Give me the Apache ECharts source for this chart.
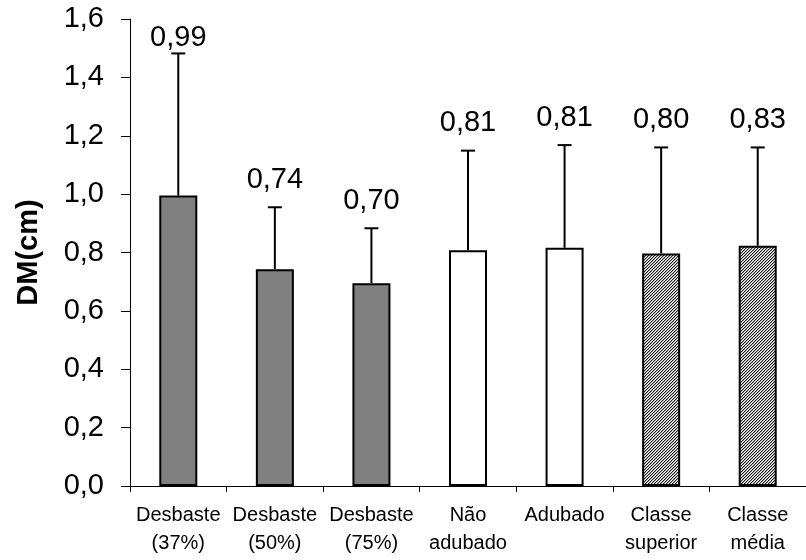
<!DOCTYPE html>
<html>
<head>
<meta charset="utf-8">
<script src="https://cdn.jsdelivr.net/npm/echarts@6/dist/echarts.min.js"></script>
<style>
html,body{margin:0;padding:0;background:#fff;}
#chart{width:806px;height:560px;}
</style>
</head>
<body>
<div id="chart"></div>
<script>
var categories = ['Desbaste\n(37%)', 'Desbaste\n(50%)', 'Desbaste\n(75%)', 'Não\nadubado', 'Adubado', 'Classe\nsuperior', 'Classe\nmédia'];
var means = [0.995, 0.743, 0.695, 0.808, 0.816, 0.797, 0.823];
var errorTops = [1.482, 0.955, 0.883, 1.149, 1.168, 1.160, 1.160];
var valueLabels = ['0,99', '0,74', '0,70', '0,81', '0,81', '0,80', '0,83'];
var fillTypes = ['gray', 'gray', 'gray', 'white', 'white', 'hatch', 'hatch'];
var yTicks = [0, 0.2, 0.4, 0.6, 0.8, 1.0, 1.2, 1.4, 1.6];

// hatch pattern (fine diagonal)
var pc = document.createElement('canvas');
pc.width = 3; pc.height = 3;
var pctx = pc.getContext('2d');
var img = pctx.createImageData(3, 3);
for (var y = 0; y < 3; y++) {
  for (var x = 0; x < 3; x++) {
    var i = (y * 3 + x) * 4;
    var r = (x + y) % 3;
    var v = r === 0 ? 25 : (r === 1 ? 165 : 255);
    img.data[i] = v; img.data[i+1] = v; img.data[i+2] = v; img.data[i+3] = 255;
  }
}
pctx.putImageData(img, 0, 0);
var hatch = { image: pc, repeat: 'repeat' };

function fillFor(t) {
  if (t === 'gray') return '#808080';
  if (t === 'white') return '#ffffff';
  return hatch;
}

var font = '"Liberation Sans", Arial, sans-serif';
var chart = echarts.init(document.getElementById('chart'), null, {renderer: 'canvas'});

chart.setOption({
  animation: false,
  backgroundColor: '#ffffff',
  grid: { left: 130, top: 19, width: 684, height: 467, containLabel: false },
  xAxis: {
    type: 'category',
    data: categories,
    boundaryGap: true,
    axisLine: { lineStyle: { color: '#000', width: 1 } },
    axisTick: { show: true, length: 6, alignWithLabel: false, lineStyle: { color: '#000' } },
    axisLabel: { color: '#000', fontSize: 20, fontFamily: font, lineHeight: 28, margin: 15, interval: 0 }
  },
  yAxis: {
    type: 'value',
    min: 0, max: 1.6, interval: 0.2,
    name: 'DM(cm)',
    nameLocation: 'middle',
    nameGap: 87,
    nameTextStyle: { color: '#000', fontSize: 29, fontWeight: 'bold', fontFamily: font },
    axisLine: { show: true, lineStyle: { color: '#000', width: 1 } },
    axisTick: { show: true, length: 9, lineStyle: { color: '#000' } },
    splitLine: { show: false },
    axisLabel: {
      color: '#000', fontSize: 29, fontFamily: font, margin: 26,
      formatter: function (v) { return v.toFixed(1).replace('.', ','); }
    }
  },
  series: [
    {
      type: 'bar',
      barWidth: 38,
      data: means.map(function (m, i) {
        return { value: m, itemStyle: { color: fillFor(fillTypes[i]), borderColor: '#000', borderWidth: 2 } };
      }),
      z: 2
    },
    {
      type: 'custom',
      z: 3,
      data: means.map(function (m, i) { return [i, m, errorTops[i]]; }),
      renderItem: function (params, api) {
        var idx = api.value(0);
        var p0 = api.coord([idx, api.value(1)]);
        var p1 = api.coord([idx, api.value(2)]);
        var cap = 7;
        var ly = Math.max(p1[1] - 13, 52);
        return {
          type: 'group',
          children: [
            { type: 'line', shape: { x1: p0[0], y1: p0[1], x2: p1[0], y2: p1[1] }, style: { stroke: '#000', lineWidth: 2 } },
            { type: 'line', shape: { x1: p1[0] - cap, y1: p1[1], x2: p1[0] + cap, y2: p1[1] }, style: { stroke: '#000', lineWidth: 2 } },
            { type: 'text', style: { text: valueLabels[params.dataIndex], x: p1[0], y: ly, align: 'center', verticalAlign: 'bottom', fontSize: 29, fontFamily: font, fill: '#000' } }
          ]
        };
      }
    }
  ]
});
</script>
</body>
</html>
